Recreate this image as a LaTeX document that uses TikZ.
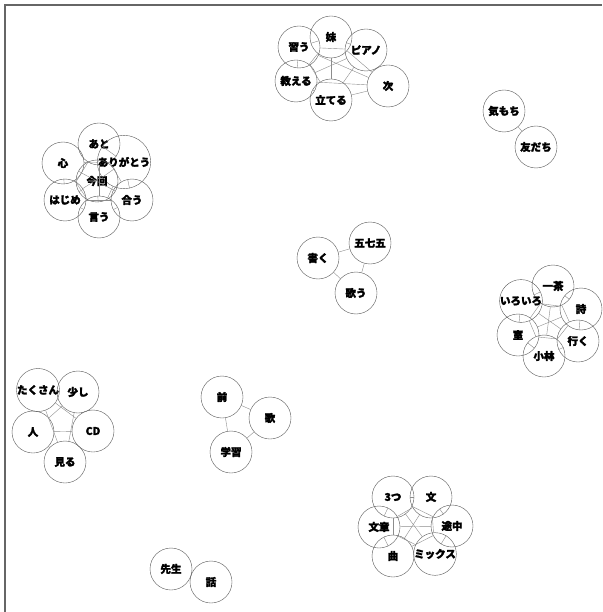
\documentclass[tikz,border=0pt]{standalone}
\usepackage{fontspec}
\newfontfamily\jp{Noto Sans CJK JP}[FakeBold=2.2]
\usetikzlibrary{positioning}
\tikzset{
    word/.style={
        draw=black!65,
        circle,
        inner sep=0pt,
        minimum size=42pt,
        font=\jp\bfseries\fontsize{10.5}{10.5}\selectfont
    },
    link/.style={
        draw=black!45,
        thin
    },
    frame/.style={
        draw=black!60,
        line width=1.4pt
    }
}
\newcommand{\clique}[1]{%
    \foreach \a [count=\i] in {#1} {
        \foreach \b [count=\j] in {#1} {
            \ifnum\j>\i \draw[link] (\a) -- (\b);\fi
        }
    }%
}

\begin{document}
\begin{tikzpicture}[x=1pt,y=-1pt]
\useasboundingbox (0,0) rectangle (602,612);
\draw[frame] (5,612) -- (5,5) -- (602,5);

% top group
\node[word] (imo) at (331,37) {妹};
\node[word] (narau) at (299,47) {習う};
\node[word] (piano) at (366,50) {ピアノ};
\node[word] (oshieru) at (296,81) {教える};
\node[word] (tsugi) at (388,86) {次};
\node[word] (tateru) at (331,100) {立てる};

% left group
\node[word] (ato) at (99,144) {あと};
\node[word] (kokoro) at (63,163) {心};
\node[word] (arigatou) at (124,162) {ありがとう};
\node[word] (konkai) at (97,181) {今回};
\node[word] (hajime) at (65,200) {はじめ};
\node[word] (au) at (132,200) {合う};
\node[word] (iu) at (99,217) {言う};

% feelings
\node[word] (kimochi) at (504,111) {気もち};
\node[word] (tomodachi) at (536,147) {友だち};

% haiku
\node[word] (kaku) at (318,258) {書く};
\node[word] (goshichigo) at (370,243) {五七五};
\node[word] (utau) at (356,293) {歌う};

% issa
\node[word] (issa) at (553,286) {一茶};
\node[word] (iroiro) at (521,301) {いろいろ};
\node[word] (shi) at (581,309) {詩};
\node[word] (shitsu) at (518,335) {室};
\node[word] (iku) at (578,341) {行く};
\node[word] (kobayashi) at (544,356) {小林};

% cd group
\node[word] (takusan) at (38,390) {たくさん};
\node[word] (sukoshi) at (78,392) {少し};
\node[word] (hito) at (33,432) {人};
\node[word] (cd) at (93,431) {CD};
\node[word] (miru) at (65,462) {見る};

% song
\node[word] (mae) at (222,397) {前};
\node[word] (uta) at (270,418) {歌};
\node[word] (gakushu) at (231,452) {学習};

% text group
\node[word] (mittsu) at (393,497) {3つ};
\node[word] (bun) at (431,497) {文};
\node[word] (bunsho) at (379,527) {文章};
\node[word] (tochu) at (452,526) {途中};
\node[word] (kyoku) at (393,556) {曲};
\node[word] (mix) at (435,554) {ミックス};

% teacher
\node[word] (sensei) at (171,569) {先生};
\node[word] (hanashi) at (211,582) {話};

\clique{imo,narau,piano,oshieru,tsugi,tateru}
\clique{ato,kokoro,arigatou,konkai,hajime,au,iu}
\clique{kimochi,tomodachi}
\clique{kaku,goshichigo,utau}
\clique{issa,iroiro,shi,shitsu,iku,kobayashi}
\clique{takusan,sukoshi,hito,cd,miru}
\clique{mae,uta,gakushu}
\clique{mittsu,bun,bunsho,tochu,kyoku,mix}
\clique{sensei,hanashi}

\end{tikzpicture}
\end{document}
